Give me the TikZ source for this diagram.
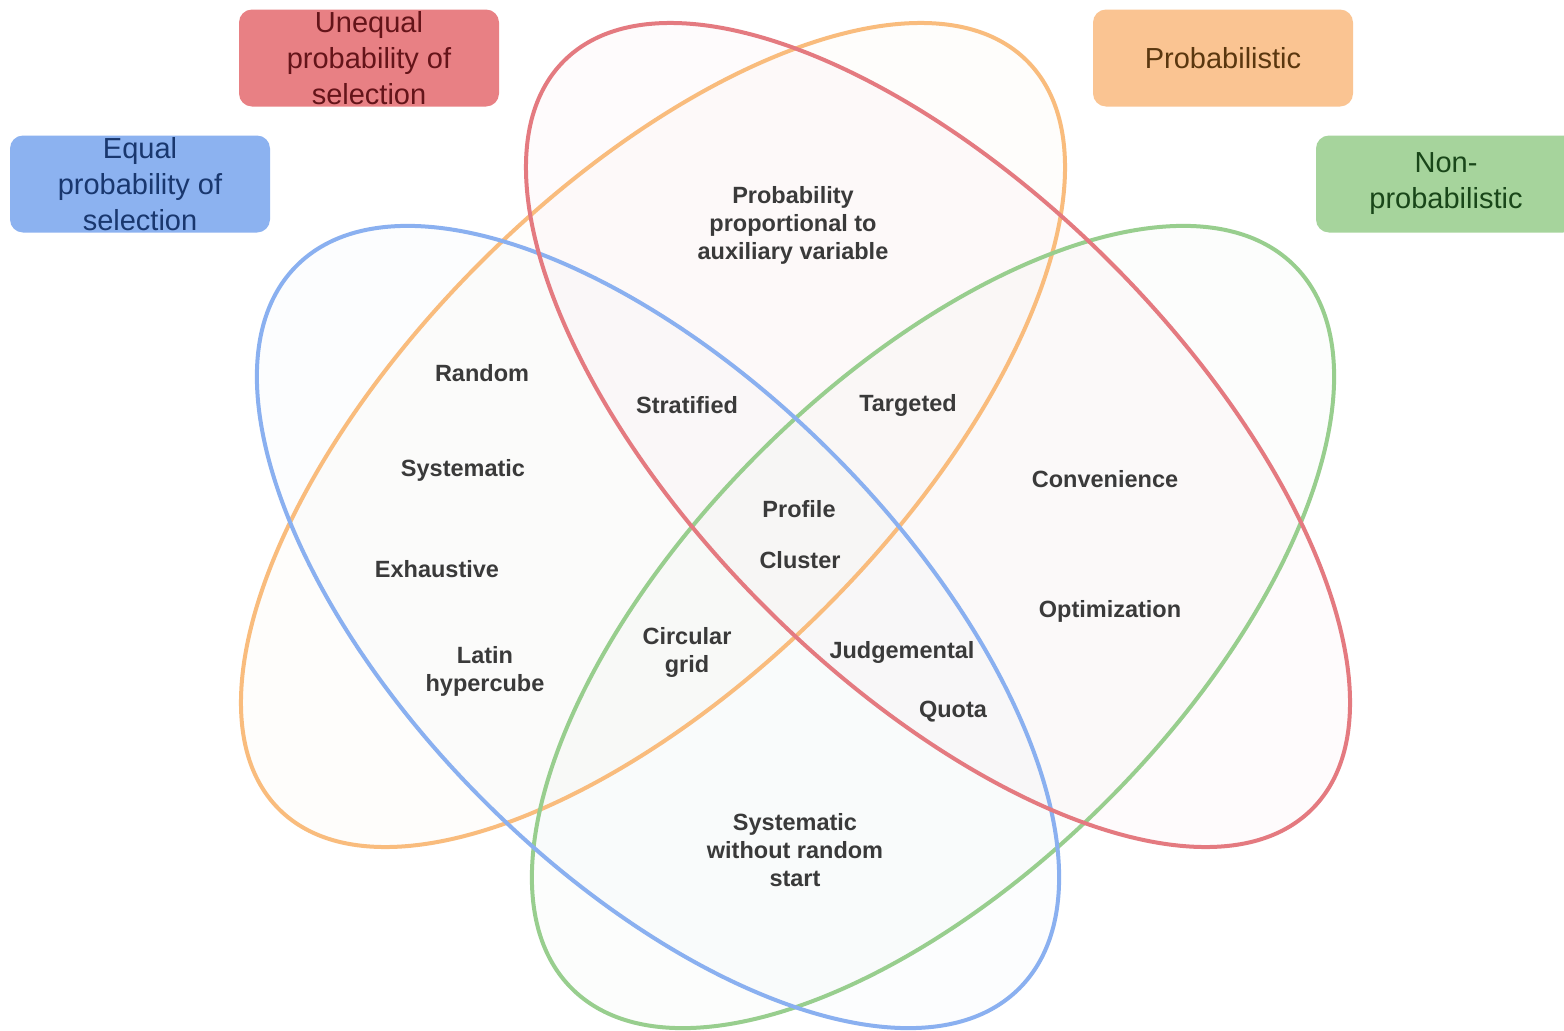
\documentclass[tikz,border=0pt]{standalone}
\usepackage{fontspec}
\setmainfont{Liberation Sans}
\definecolor{blueL}{RGB}{138,176,240}
\definecolor{redL}{RGB}{228,122,128}
\definecolor{orangeL}{RGB}{249,188,125}
\definecolor{greenL}{RGB}{152,206,142}
\definecolor{blueB}{RGB}{140,178,240}
\definecolor{redB}{RGB}{232,128,132}
\definecolor{orangeB}{RGB}{250,196,146}
\definecolor{greenB}{RGB}{166,212,156}
\definecolor{blueT}{RGB}{25,55,110}
\definecolor{redT}{RGB}{100,20,25}
\definecolor{orangeT}{RGB}{90,55,15}
\definecolor{greenT}{RGB}{25,70,25}
\definecolor{bodyT}{RGB}{58,58,58}
\begin{document}
\begin{tikzpicture}[x=1pt,y=-1pt,
  lbl/.style={align=center,text=bodyT,font=\fontsize{23.5}{28}\selectfont\bfseries,inner sep=0pt},
  catbox/.style={rounded corners=13pt,minimum width=260pt,minimum height=97pt,align=center,inner sep=0pt,font=\fontsize{29}{36}\selectfont},
  ring/.style={line width=4pt},
  tint/.style={fill opacity=0.025}]
\useasboundingbox (0,0) rectangle (1564,1031);
\fill[white] (0,0) rectangle (1564,1031);
% ellipses
\fill[blueL,tint,rotate around={-45:(658,627)}] (658,627) ellipse [x radius=511pt,y radius=246pt];
\fill[redL,tint,rotate around={-45:(938,435)}] (938,435) ellipse [x radius=529pt,y radius=244pt];
\fill[orangeL,tint,rotate around={45:(653,435)}] (653,435) ellipse [x radius=529pt,y radius=244pt];
\fill[greenL,tint,rotate around={45:(933,627)}] (933,627) ellipse [x radius=511pt,y radius=246pt];
\draw[ring,orangeL,rotate around={45:(653,435)}] (653,435) ellipse [x radius=529pt,y radius=244pt];
\draw[ring,greenL,rotate around={45:(933,627)}] (933,627) ellipse [x radius=511pt,y radius=246pt];
\draw[ring,blueL,rotate around={-45:(658,627)}] (658,627) ellipse [x radius=511pt,y radius=246pt];
\draw[ring,redL,rotate around={-45:(938,435)}] (938,435) ellipse [x radius=529pt,y radius=244pt];
% category boxes
\begin{scope}
\clip (0,0) rectangle (1564,1031);
\node[catbox,fill=redB,text=redT] (unequal) at (369,58) {Unequal\\probability of\\selection};
\node[catbox,fill=blueB,text=blueT] (equal) at (140,184) {Equal\\probability of\\selection};
\node[catbox,fill=orangeB,text=orangeT] (prob) at (1223,58) {Probabilistic};
\node[catbox,fill=greenB,text=greenT] (nonprob) at (1446,184) {Non-\\probabilistic};
\end{scope}
% labels
\node[lbl] (pps) at (793,225) {Probability\\proportional to\\auxiliary variable};
\node[lbl] (random) at (482,373) {Random};
\node[lbl] (systematic) at (463,470) {Systematic};
\node[lbl] (exhaustive) at (437,569) {Exhaustive};
\node[lbl] (latin) at (485,671) {Latin\\hypercube};
\node[lbl] (stratified) at (687,405) {Stratified};
\node[lbl] (targeted) at (908,405) {Targeted};
\node[lbl] (profile) at (799,509) {Profile};
\node[lbl] (cluster) at (800,560) {Cluster};
\node[lbl] (convenience) at (1105,479) {Convenience};
\node[lbl] (optimization) at (1110,611) {Optimization};
\node[lbl] (circular) at (687,652) {Circular\\grid};
\node[lbl] (judgemental) at (902,652) {Judgemental};
\node[lbl] (quota) at (953,712) {Quota};
\node[lbl] (swrs) at (795,850) {Systematic\\without random\\start};
\end{tikzpicture}
\end{document}
